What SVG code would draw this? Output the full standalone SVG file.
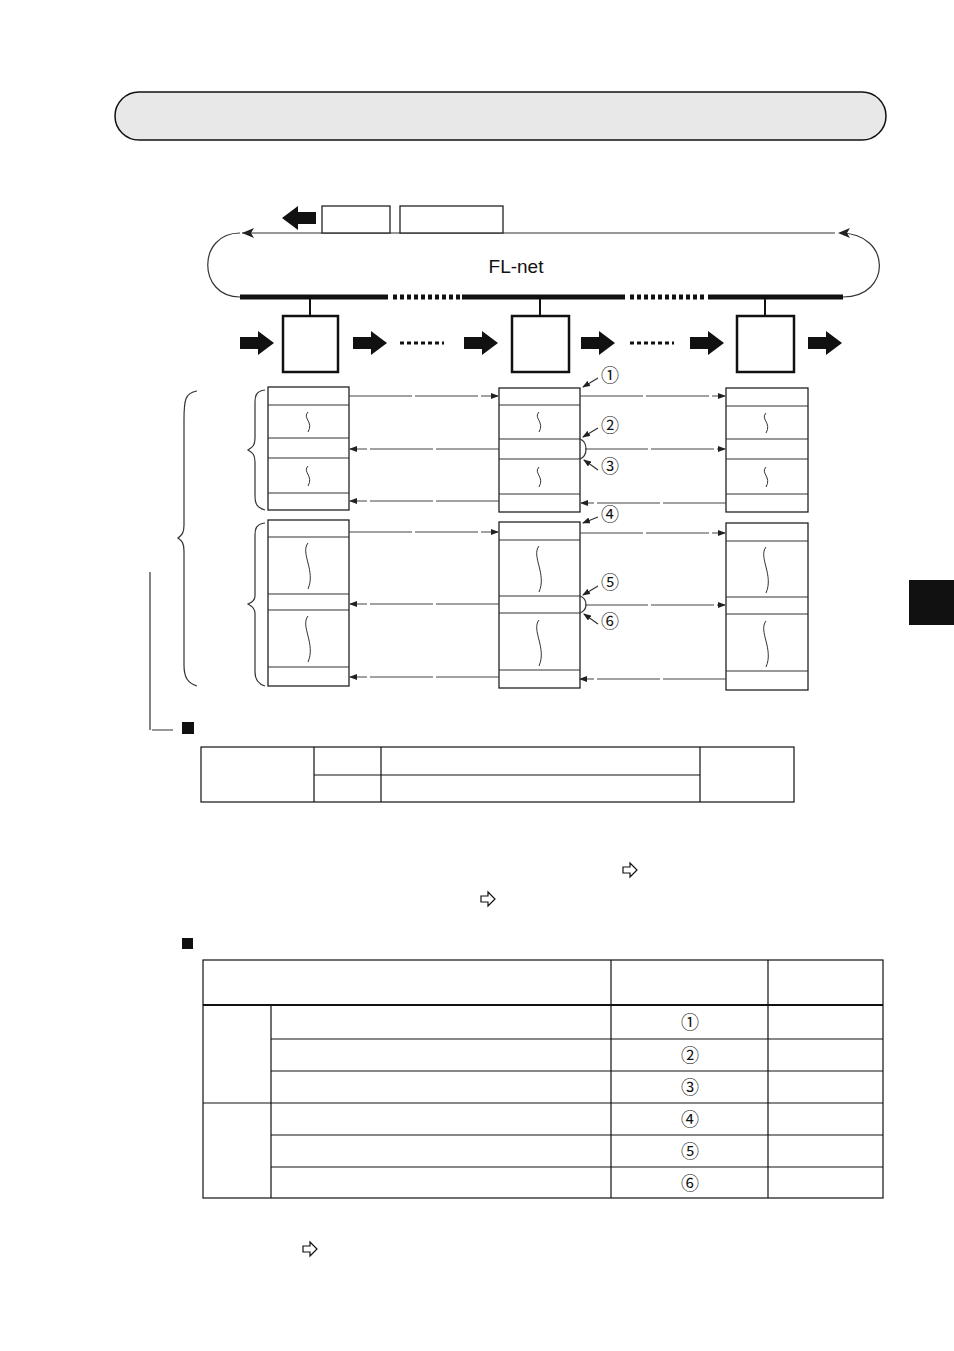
<svg xmlns="http://www.w3.org/2000/svg" width="954" height="1351" viewBox="0 0 954 1351">
<style>
.t{font-family:"Liberation Sans",Arial,sans-serif;fill:#111}
.c{font-family:"Noto Sans CJK JP","DejaVu Sans",sans-serif;font-size:18px;fill:#111;text-anchor:middle}
.box{fill:#fff;stroke:#222;stroke-width:1.3}
.ln{stroke:#333;stroke-width:1.2;fill:none}
.dl{stroke:#444;stroke-width:1;fill:none;stroke-dasharray:60 0 3 3}
.blk{fill:#111}
.tb{fill:none;stroke:#111;stroke-width:1.2}
</style>
<defs>
<marker id="ah" markerWidth="8" markerHeight="6" refX="7" refY="3" orient="auto" markerUnits="userSpaceOnUse"><path d="M0,0L8,3L0,6z" fill="#222"/></marker>
<path id="fat" d="M0,-6H18V-12L34,0L18,12V6H0z"/>
<path id="sq" d="M0,0c-6,6 6,10 0,20" fill="none" stroke="#333"/>
<path id="sql" d="M0,0c-8,10 8,28 0,46" fill="none" stroke="#333"/>
<path id="oarr" d="M0,-3H7V-7L14,0L7,7V3H0z" fill="none" stroke="#111" stroke-width="1.2" stroke-linejoin="miter"/>
</defs>
<rect x="115" y="92" width="771" height="48" rx="24" fill="#e8e8e8" stroke="#111" stroke-width="1.5"/>
<rect x="909" y="580" width="45" height="45" fill="#111"/>
<g id="network">
<path d="M240,233C197,233 197,297 240,297" class="ln"/>
<path d="M840,233C892,233 892,297 843,297" class="ln"/>
<line x1="242" y1="233" x2="835" y2="233" class="ln" stroke-width="1.5"/>
<path d="M242,233L254,228L251,233L254,238z" fill="#222"/>
<path d="M838,233L850,228L847,233L850,238z" fill="#222"/>
<rect x="322" y="206" width="68" height="27" class="box"/>
<rect x="400" y="206" width="103" height="27" class="box"/>
<use href="#fat" transform="translate(316,218) scale(-1,1)" class="blk"/>
<text x="516" y="273" class="t" font-size="19" text-anchor="middle">FL-net</text>
<g stroke="#111" stroke-width="5">
<line x1="240" y1="297" x2="388" y2="297"/>
<line x1="393" y1="297" x2="460" y2="297" stroke-dasharray="4 3"/>
<line x1="462" y1="297" x2="625" y2="297"/>
<line x1="630" y1="297" x2="705" y2="297" stroke-dasharray="4 3"/>
<line x1="708" y1="297" x2="843" y2="297"/>
</g>
</g>
<g id="nodes">
<g id="node1"><line x1="310" y1="297" x2="310" y2="316" stroke="#111" stroke-width="2"/><rect x="283" y="316" width="55" height="56" fill="#fff" stroke="#111" stroke-width="2.5"/></g>
<g id="node2"><line x1="540" y1="297" x2="540" y2="316" stroke="#111" stroke-width="2"/><rect x="512" y="316" width="57" height="56" fill="#fff" stroke="#111" stroke-width="2.5"/></g>
<g id="node3"><line x1="765" y1="297" x2="765" y2="316" stroke="#111" stroke-width="2"/><rect x="737" y="316" width="57" height="56" fill="#fff" stroke="#111" stroke-width="2.5"/></g>
<g class="blk">
<use href="#fat" x="240" y="343"/><use href="#fat" x="353" y="343"/>
<use href="#fat" x="464" y="343"/><use href="#fat" x="581" y="343"/>
<use href="#fat" x="690" y="343"/><use href="#fat" x="808" y="343"/>
</g>
<g stroke="#111" stroke-width="3" stroke-dasharray="4 3"><line x1="400" y1="343" x2="444" y2="343"/><line x1="630" y1="343" x2="674" y2="343"/></g>
</g>
<g id="memory">
<g id="memL">
<rect x="268" y="387" width="81" height="123" class="box"/>
<path d="M268,405H349M268,438H349M268,458H349M268,493H349" class="ln"/>
<rect x="268" y="520" width="81" height="166" class="box"/>
<path d="M268,537H349M268,594H349M268,610H349M268,667H349" class="ln"/>
<use href="#sq" x="308" y="412"/><use href="#sq" x="308" y="466"/>
<use href="#sql" x="308" y="543"/><use href="#sql" x="308" y="616"/>
</g>
<g id="memM">
<rect x="499" y="388" width="81" height="124" class="box"/>
<path d="M499,405H580M499,439H580M499,459H580M499,494H580" class="ln"/>
<rect x="499" y="522" width="81" height="166" class="box"/>
<path d="M499,540H580M499,596H580M499,613H580M499,670H580" class="ln"/>
<use href="#sq" x="539" y="412"/><use href="#sq" x="539" y="467"/>
<use href="#sql" x="539" y="546"/><use href="#sql" x="539" y="620"/>
</g>
<g id="memR">
<rect x="726" y="388" width="82" height="124" class="box"/>
<path d="M726,406H808M726,439H808M726,459H808M726,494H808" class="ln"/>
<rect x="726" y="523" width="82" height="167" class="box"/>
<path d="M726,541H808M726,597H808M726,614H808M726,671H808" class="ln"/>
<use href="#sq" x="766" y="413"/><use href="#sq" x="766" y="467"/>
<use href="#sql" x="766" y="547"/><use href="#sql" x="766" y="621"/>
</g>
<path d="M197,391C185,393 184,400 184,420V525C184,533 182,535 178,538C182,541 184,543 184,551V665C184,678 188,683 197,686" class="ln" stroke-width="1"/>
<path d="M265,390C256,391 255,396 255,402V438C255,445 253,447 248,450C253,453 255,455 255,462V496C255,505 258,508 265,510" class="ln" stroke-width="1"/>
<path d="M265,523C256,524 255,529 255,535V596C255,600 253,602 248,604C253,607 255,609 255,614V672C255,680 258,684 265,686" class="ln" stroke-width="1"/>
<path d="M150,572V730M152,730H173" class="ln" stroke-width="1"/>
<rect x="182" y="722" width="12" height="12" fill="#111"/>
</g>
<g id="connectors">
<line x1="349" y1="396" x2="498" y2="396" class="dl" marker-end="url(#ah)"/>
<line x1="580" y1="396" x2="725" y2="396" class="dl" marker-end="url(#ah)"/>
<line x1="499" y1="449" x2="350" y2="449" class="dl" marker-end="url(#ah)"/>
<line x1="585" y1="449" x2="725" y2="449" class="dl" marker-end="url(#ah)"/>
<line x1="499" y1="501" x2="350" y2="501" class="dl" marker-end="url(#ah)"/>
<line x1="726" y1="503" x2="581" y2="503" class="dl" marker-end="url(#ah)"/>
<line x1="349" y1="532" x2="498" y2="532" class="dl" marker-end="url(#ah)"/>
<line x1="580" y1="533" x2="725" y2="533" class="dl" marker-end="url(#ah)"/>
<line x1="499" y1="604" x2="350" y2="604" class="dl" marker-end="url(#ah)"/>
<line x1="585" y1="605" x2="725" y2="605" class="dl" marker-end="url(#ah)"/>
<line x1="499" y1="677" x2="350" y2="677" class="dl" marker-end="url(#ah)"/>
<line x1="726" y1="679" x2="580" y2="679" class="dl" marker-end="url(#ah)"/>
<path d="M580,439C588,442 588,456 580,459M580,596C588,599 588,610 580,613" class="ln" stroke-width="1"/>
<line x1="598" y1="378" x2="583" y2="387" class="ln" marker-end="url(#ah)"/>
<line x1="598" y1="428" x2="583" y2="437" class="ln" marker-end="url(#ah)"/>
<line x1="598" y1="470" x2="584" y2="460" class="ln" marker-end="url(#ah)"/>
<line x1="598" y1="517" x2="583" y2="523" class="ln" marker-end="url(#ah)"/>
<line x1="598" y1="586" x2="583" y2="595" class="ln" marker-end="url(#ah)"/>
<line x1="598" y1="624" x2="584" y2="614" class="ln" marker-end="url(#ah)"/>
</g>
<g id="labels">
<text x="610" y="382" class="c">①</text>
<text x="610" y="432" class="c">②</text>
<text x="610" y="473" class="c">③</text>
<text x="610" y="521" class="c">④</text>
<text x="610" y="589" class="c">⑤</text>
<text x="610" y="628" class="c">⑥</text>
</g>
<g id="table1">
<rect x="201" y="747" width="593" height="55" class="tb"/>
<path d="M314,747V802M381,747V802M700,747V802M314,775H700" class="tb"/>
</g>
<use href="#oarr" x="623" y="870"/>
<use href="#oarr" x="481" y="899"/>
<use href="#oarr" x="303" y="1249"/>
<rect x="182" y="938" width="11" height="11" fill="#111"/>
<g id="table2">
<rect x="203" y="960" width="680" height="238" class="tb" stroke-width="1.5"/>
<path d="M203,1005H883" stroke="#111" stroke-width="2"/>
<path d="M611,960V1198M768,960V1198M271,1005V1198M271,1039H883M271,1071H883M203,1103H883M271,1135H883M271,1167H883" class="tb"/>
<text x="690" y="1029" class="c">①</text>
<text x="690" y="1062" class="c">②</text>
<text x="690" y="1094" class="c">③</text>
<text x="690" y="1126" class="c">④</text>
<text x="690" y="1158" class="c">⑤</text>
<text x="690" y="1190" class="c">⑥</text>
</g>
</svg>
